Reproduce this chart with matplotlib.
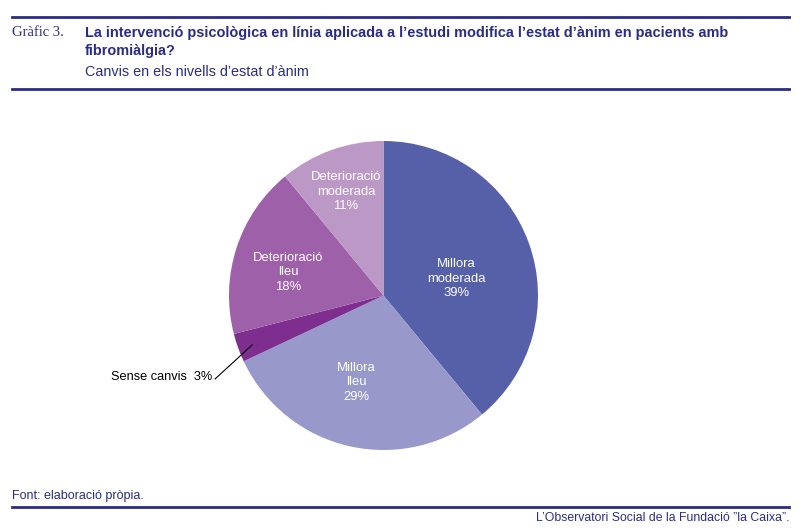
import matplotlib
matplotlib.use("Agg")
import matplotlib.pyplot as plt
from matplotlib.lines import Line2D

categories = ["Millora\nmoderada", "Millora\nlleu", "Sense canvis", "Deterioració\nlleu", "Deterioració\nmoderada"]
values = [39, 29, 3, 18, 11]
colors = ["#5660A9", "#9899CA", "#7E2E8F", "#9D60A9", "#BC98C7"]
# label positions (data coords, pie radius = 1); None -> external label
label_pos = [(0.472, 0.11), (-0.175, -0.563), None, (-0.615, 0.149), (-0.243, 0.673)]

NAVY = "#2B2C86"
W, H = 800, 531
fig = plt.figure(figsize=(W / 100, H / 100), dpi=100)
fig.patch.set_facecolor("white")

def fx(x):
    return x / W

def fy(y):
    return 1 - y / H

sans = ["Liberation Sans", "DejaVu Sans"]

# rules
for y, lw in [(17, 2.0), (89, 2.0), (507, 2.0)]:
    fig.add_artist(Line2D([fx(12), fx(789)], [fy(y), fy(y)], color=NAVY, lw=lw,
                          transform=fig.transFigure))

fig.text(fx(12), fy(33), "Gràfic 3.", family=["Liberation Serif", "DejaVu Serif"],
         fontsize=10.5, color=NAVY, va="center", ha="left")
fig.text(fx(85), fy(33), "La intervenció psicològica en línia aplicada a l’estudi modifica l’estat d’ànim en pacients amb",
         family=sans, fontsize=10.45, fontweight="bold", color=NAVY, va="center", ha="left")
fig.text(fx(85), fy(51), "fibromiàlgia?", family=sans, fontsize=10.45, fontweight="bold",
         color=NAVY, va="center", ha="left")
fig.text(fx(85), fy(72), "Canvis en els nivells d’estat d’ànim", family=sans, fontsize=10.4,
         color=NAVY, va="center", ha="left")

fig.text(fx(12), fy(496), "Font: elaboració pròpia.", family=sans, fontsize=9,
         color=NAVY, va="center", ha="left")
fig.text(fx(789), fy(518), "L’Observatori Social de la Fundació \u201dla Caixa\u201d.", family=sans,
         fontsize=8.8, color=NAVY, va="center", ha="right")

# pie
ax = fig.add_axes([fx(229), fy(450), 309 / W, 309 / H])
wedges, _ = ax.pie(values, colors=colors, startangle=90, counterclock=False, radius=1,
                   wedgeprops=dict(linewidth=0))
ax.set_xlim(-1, 1)
ax.set_ylim(-1, 1)
ax.set_aspect("equal")
ax.axis("off")

for cat, val, pos in zip(categories, values, label_pos):
    if pos is not None:
        ax.text(pos[0], pos[1], f"{cat}\n{val}%", ha="center", va="center",
                color="white", fontsize=9.4, family=sans, linespacing=1.3)
    else:
        ax.plot([-0.85, -1.09], [-0.32, -0.54], color="black", lw=0.8, clip_on=False)
        ax.text(-1.11, -0.525, f"{cat}  {val}%", ha="right", va="center",
                color="black", fontsize=9.2, family=sans)

fig.savefig("out.png", dpi=100)
